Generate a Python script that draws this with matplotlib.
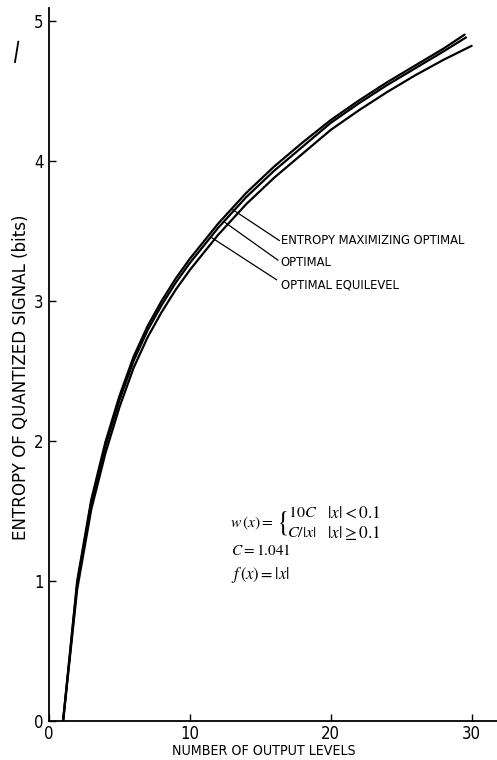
import matplotlib
matplotlib.use("Agg")
import matplotlib.pyplot as plt
from matplotlib import font_manager
from matplotlib.lines import Line2D

# ---------------- data ----------------
levels_top = [1, 2, 3, 4, 5, 6, 7, 8, 9, 10, 12, 14, 16, 18, 20, 22, 24, 26, 28, 29.5]
entropy_max_opt = [0, 1.00, 1.58, 1.99, 2.32, 2.60, 2.82, 3.00, 3.16, 3.30, 3.55, 3.77,
                   3.96, 4.13, 4.29, 4.43, 4.56, 4.68, 4.80, 4.90]

levels_mid = [1, 2, 3, 4, 5, 6, 7, 8, 9, 10, 12, 14, 16, 18, 20, 22, 24, 26, 28, 29.6]
optimal = [0, 0.98, 1.56, 1.96, 2.29, 2.57, 2.79, 2.97, 3.13, 3.27, 3.52, 3.74,
           3.93, 4.10, 4.27, 4.41, 4.54, 4.66, 4.78, 4.88]

levels_bot = [1, 2, 3, 4, 5, 6, 7, 8, 9, 10, 12, 14, 16, 18, 20, 22, 24, 26, 28, 30]
optimal_equilevel = [0, 0.94, 1.51, 1.91, 2.24, 2.52, 2.74, 2.92, 3.08, 3.22, 3.47, 3.69,
                     3.88, 4.05, 4.22, 4.36, 4.49, 4.61, 4.72, 4.82]

series_labels = ["ENTROPY MAXIMIZING OPTIMAL", "OPTIMAL", "OPTIMAL EQUILEVEL"]
x_ticks = [0, 10, 20, 30]
y_ticks = [0, 1, 2, 3, 4, 5]
x_label = "NUMBER OF OUTPUT LEVELS"
y_label = "ENTROPY OF QUANTIZED SIGNAL (bits)"

# ---------------- fonts ----------------
names = {f.name for f in font_manager.fontManager.ttflist}
if "Liberation Sans Narrow" in names:
    FAM = ["Liberation Sans Narrow", "DejaVu Sans"]
    STRETCH = "normal"
else:
    FAM = ["DejaVu Sans"]
    STRETCH = "condensed"
plt.rcParams["font.family"] = FAM
plt.rcParams["mathtext.fontset"] = "stix"

W, H = 497, 760
fig = plt.figure(figsize=(W / 100, H / 100), dpi=100)
ax = fig.add_axes([49 / W, 39 / H, (W - 49) / W, (721 - 8) / H])

ax.set_xlim(0, 31.8)
ax.set_ylim(0, 5.09)

lw = 1.6
ax.plot(levels_top, entropy_max_opt, color="black", lw=lw, solid_capstyle="round")
ax.plot(levels_mid, optimal, color="black", lw=lw, solid_capstyle="round")
ax.plot(levels_bot, optimal_equilevel, color="black", lw=lw, solid_capstyle="round")

for s in ["top", "right"]:
    ax.spines[s].set_visible(False)
for s in ["left", "bottom"]:
    ax.spines[s].set_linewidth(1.3)

ax.set_xticks(x_ticks)
ax.set_yticks(y_ticks)
ax.tick_params(direction="in", length=5, width=1.0, labelsize=12, pad=4)
ax.tick_params(axis="x", pad=3)
for lab in ax.get_xticklabels() + ax.get_yticklabels():
    lab.set_fontstretch(STRETCH)

fig.text(264 / W, 1 - 751 / H, x_label, ha="center", va="center",
         fontsize=10.2, fontstretch=STRETCH)
fig.text(21 / W, 1 - 377 / H, y_label, ha="center", va="center", rotation=90,
         fontsize=13.3, fontstretch=STRETCH)

# leader lines and series labels
leader_start = [(13.05, 3.65), (12.48, 3.56), (11.56, 3.45)]
leader_end = [(16.35, 3.43), (16.25, 3.29), (16.15, 3.15)]
text_y = [3.43, 3.27, 3.11]
for (x0, y0), (x1, y1), ty, lab in zip(leader_start, leader_end, text_y, series_labels):
    ax.plot([x0, x1], [y0, y1], color="black", lw=0.9)
    ax.text(16.45, ty, lab, ha="left", va="center", fontsize=9.3, fontstretch=STRETCH)

# formula block
fs = 12
ax.text(12.84, 1.41, r"$w\,(x)=$", ha="left", va="center", fontsize=fs - 0.8)
ax.text(16.1, 1.41, r"$\{$", ha="left", va="center", fontsize=20)
ax.text(17.0, 1.485, r"$10C$", ha="left", va="center", fontsize=fs - 0.5)
ax.text(16.9, 1.345, r"$C/|x|$", ha="left", va="center", fontsize=fs - 0.5)
ax.text(19.75, 1.485, r"$|x| < 0.1$", ha="left", va="center", fontsize=fs + 0.5)
ax.text(19.75, 1.345, r"$|x| \geq 0.1$", ha="left", va="center", fontsize=fs + 0.5)
ax.text(12.9, 1.22, r"$C=1.041$", ha="left", va="center", fontsize=fs - 1)
ax.text(12.9, 1.04, r"$f\,(x)=|x|$", ha="left", va="center", fontsize=fs)

# small stray stroke at top left of the scanned figure
fig.add_artist(Line2D([15 / W, 18.3 / W], [1 - 62 / H, 1 - 41.7 / H],
                      color="black", lw=1.3, transform=fig.transFigure))

fig.savefig("out.png", dpi=100)
